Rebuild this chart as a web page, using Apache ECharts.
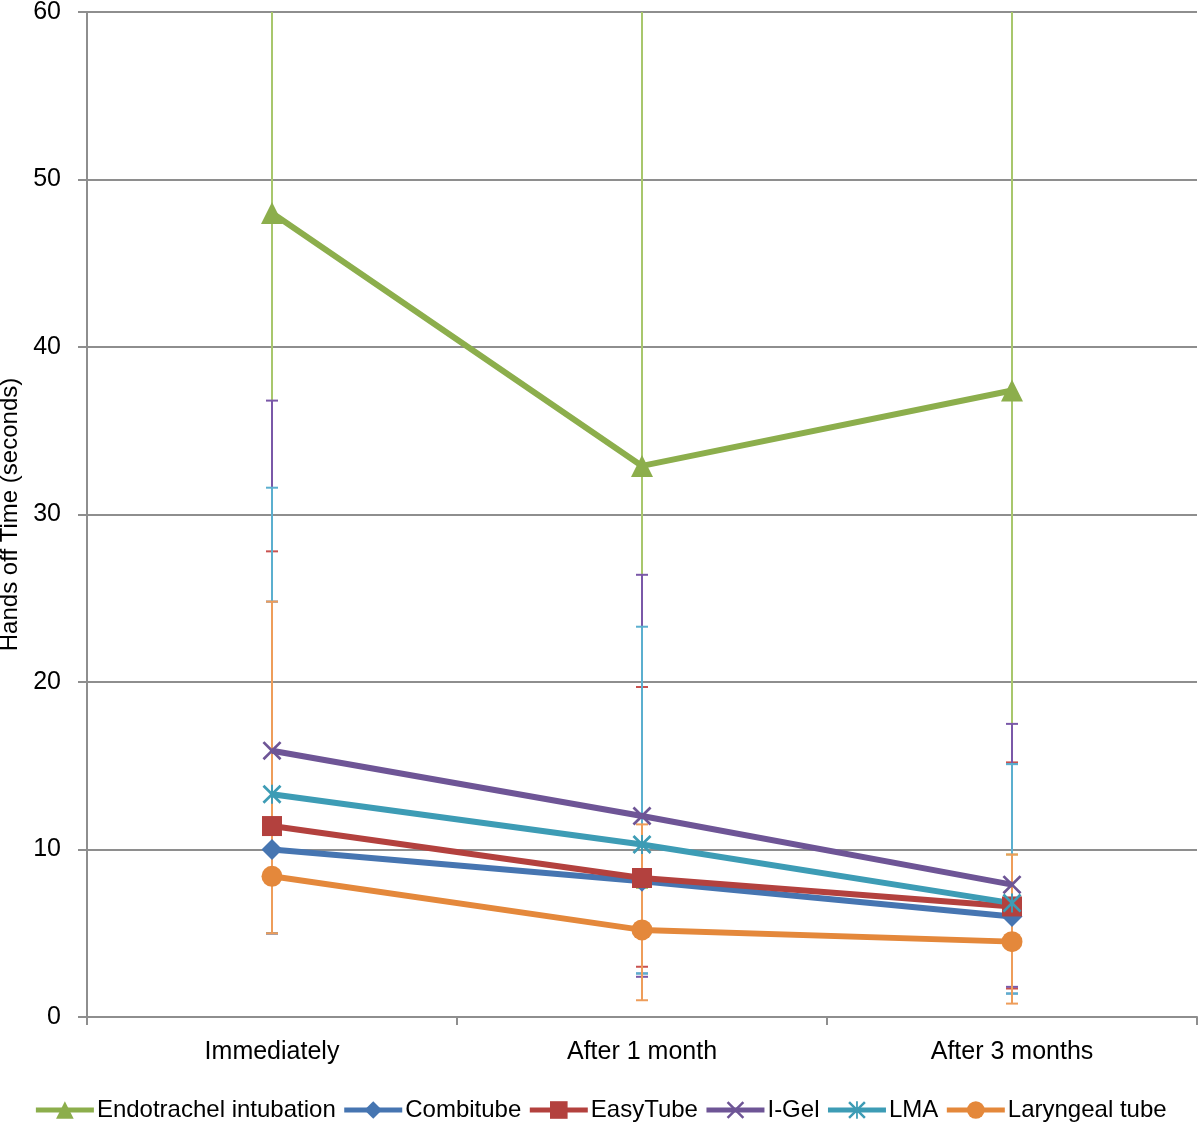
<!DOCTYPE html>
<html>
<head>
<meta charset="utf-8">
<script src="https://cdn.jsdelivr.net/npm/echarts@6/dist/echarts.min.js"></script>
<style>
html,body{margin:0;padding:0;background:#fff;}
#chart{width:1200px;height:1122px;}
</style>
</head>
<body>
<div id="chart"></div>
<script>
// ---- Data ----
const categories = ['Immediately', 'After 1 month', 'After 3 months'];
const seriesNames = ['Endotrachel intubation', 'Combitube', 'EasyTube', 'I-Gel', 'LMA', 'Laryngeal tube'];
const yTicks = [0, 10, 20, 30, 40, 50, 60];

const endotracheal = [48.0, 32.9, 37.4];
const combitube    = [10.0, 8.1, 6.0];
const easyTube     = [11.4, 8.3, 6.6];
const iGel         = [15.9, 12.0, 7.9];
const lma          = [13.3, 10.3, 6.8];
const laryngeal    = [8.4, 5.2, 4.5];

// error bar ends (low, high)
const endotrachealLow = [5.0, 7.7, 9.7];
const endotrachealHigh = [75, 75, 75];
const combitubeLow = [5.0, 2.6, 1.4];
const combitubeHigh = [24.8, 19.7, 15.1];
const easyTubeLow = [5.0, 3.0, 1.7];
const easyTubeHigh = [27.8, 19.7, 15.2];
const iGelLow = [5.0, 2.4, 1.8];
const iGelHigh = [36.8, 26.4, 17.5];
const lmaLow = [5.0, 2.6, 1.4];
const lmaHigh = [31.6, 23.3, 15.1];
const laryngealLow = [5.0, 1.0, 0.8];
const laryngealHigh = [24.8, 11.5, 9.7];

// ---- Styles ----
const lineColors = ['#8CAE4C', '#4675B1', '#B3413E', '#6E5596', '#3D9CB5', '#E4883B'];
const barColors  = ['#A8C76C', '#4F81BD', '#C9524F', '#7A58A8', '#5BAFCF', '#EE9D5A'];
const crossPath = 'path://M0,2L2,0L10,8L18,0L20,2L12,10L20,18L18,20L10,12L2,20L0,18L8,10Z';
const starPath = 'path://M0,2L2,0L10,8L18,0L20,2L12,10L20,18L18,20L10,12L2,20L0,18L8,10Z M9,0L11,0L11,20L9,20Z';
const symbols = ['triangle', 'diamond', 'rect', crossPath, starPath, 'circle'];
const symbolSizes = [22, 21, 20, 19, 19, 21];

const means = [endotracheal, combitube, easyTube, iGel, lma, laryngeal];
const lows = [endotrachealLow, combitubeLow, easyTubeLow, iGelLow, lmaLow, laryngealLow];
const highs = [endotrachealHigh, combitubeHigh, easyTubeHigh, iGelHigh, lmaHigh, laryngealHigh];

function errorSeries(idx) {
  const color = barColors[idx];
  return {
    type: 'custom',
    name: seriesNames[idx] + ' range',
    z: 1,
    silent: true,
    data: categories.map((c, i) => [i, lows[idx][i], highs[idx][i]]),
    encode: { x: 0, y: [1, 2] },
    renderItem: function (params, api) {
      const xi = api.value(0);
      const pLow = api.coord([xi, api.value(1)]);
      const pHigh = api.coord([xi, api.value(2)]);
      const x = pLow[0];
      const cs = params.coordSys;
      const top = cs.y, bottom = cs.y + cs.height;
      let yl = pLow[1], yh = pHigh[1];
      const capH = yh >= top - 0.5, capL = yl <= bottom + 0.5;
      yh = Math.max(yh, top); yl = Math.min(yl, bottom);
      const hw = 6;
      const children = [{
        type: 'line', shape: { x1: x, y1: yl, x2: x, y2: yh },
        style: { stroke: color, lineWidth: 2 }
      }];
      if (capH) children.push({ type: 'line', shape: { x1: x - hw, y1: yh, x2: x + hw, y2: yh }, style: { stroke: color, lineWidth: 2 } });
      if (capL) children.push({ type: 'line', shape: { x1: x - hw, y1: yl, x2: x + hw, y2: yl }, style: { stroke: color, lineWidth: 2 } });
      return { type: 'group', children: children };
    }
  };
}

function lineSeries(idx) {
  return {
    type: 'line',
    name: seriesNames[idx],
    z: 3,
    data: means[idx],
    symbol: symbols[idx],
    symbolSize: symbolSizes[idx],
    showAllSymbol: true,
    lineStyle: { color: lineColors[idx], width: 6 },
    itemStyle: { color: lineColors[idx] },
    emphasis: { disabled: true },
    animation: false
  };
}

const series = [];
for (let i = 0; i < 6; i++) series.push(errorSeries(i));
for (let i = 0; i < 6; i++) series.push(lineSeries(i));

const font = 'Liberation Sans, Arial, sans-serif';
const chart = echarts.init(document.getElementById('chart'), null, { renderer: 'canvas' });
chart.setOption({
  animation: false,
  backgroundColor: '#ffffff',
  grid: { left: 87, right: 3, top: 12, bottom: 105, containLabel: false, outerBoundsMode: 'none' },
  legend: {
    data: seriesNames,
    top: 1093,
    left: 'center',
    itemWidth: 58,
    itemHeight: 22,
    itemGap: 6,
    lineStyle: { width: 5 },
    textStyle: { fontFamily: font, fontSize: 24, color: '#000', padding: [0, 0, 0, -2] },
    selectedMode: false
  },
  xAxis: {
    type: 'category',
    data: categories,
    boundaryGap: true,
    axisLine: { lineStyle: { color: '#8e8e8e', width: 2 } },
    axisTick: { show: true, length: 8, lineStyle: { color: '#8e8e8e', width: 2 } },
    axisLabel: { fontFamily: font, fontSize: 25, color: '#000', margin: 23 }
  },
  yAxis: {
    type: 'value',
    min: yTicks[0],
    max: yTicks[yTicks.length - 1],
    interval: 10,
    name: 'Hands off Time (seconds)',
    nameLocation: 'middle',
    nameRotate: 90,
    nameGap: 59,
    nameTextStyle: { fontFamily: font, fontSize: 24, color: '#000' },
    axisLine: { show: true, lineStyle: { color: '#8e8e8e', width: 2 } },
    axisTick: { show: true, length: 9, lineStyle: { color: '#8e8e8e', width: 2 } },
    axisLabel: { fontFamily: font, fontSize: 25, color: '#000', margin: 26 },
    splitLine: { show: true, lineStyle: { color: '#8e8e8e', width: 2 } }
  },
  series: series
});
</script>
</body>
</html>
